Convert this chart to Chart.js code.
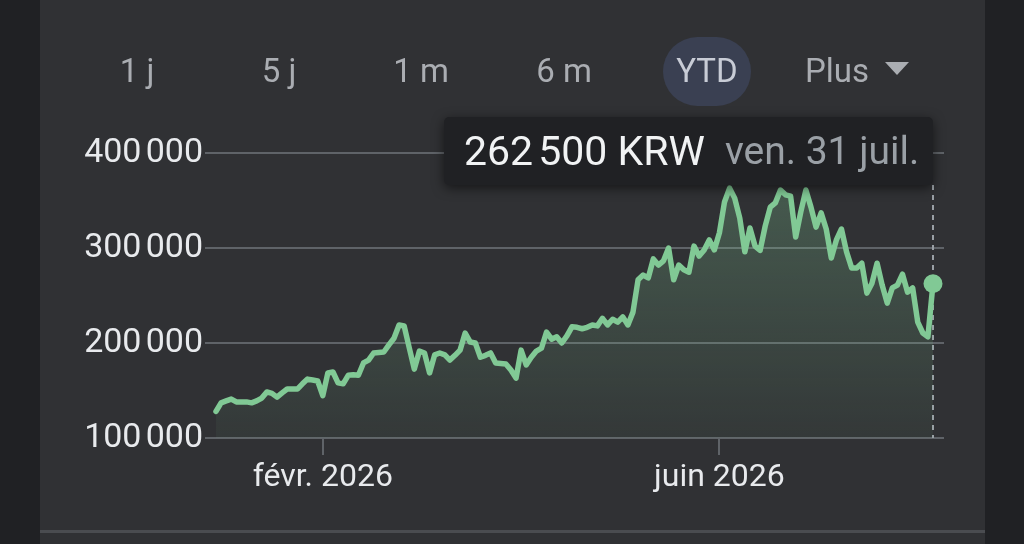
<!DOCTYPE html>
<html lang="fr">
<head>
<meta charset="utf-8">
<script src="https://cdn.jsdelivr.net/npm/chart.js@4.4.1/dist/chart.umd.min.js"></script>
<style>
html, body { margin: 0; padding: 0; background: #202124; }
#page { position: relative; width: 1024px; height: 544px; overflow: hidden; background: #202124; font-family: Roboto, "Noto Sans", sans-serif; }
#panel { position: absolute; left: 40px; top: 0; width: 945px; height: 544px; background: #303134; }
#chart { position: absolute; left: 0; top: 0; }
.range { position: absolute; top: 48px; width: 100px; height: 46px; line-height: 46px; margin-left: -50px; text-align: center; font-size: 33px; color: #aaadb2; white-space: nowrap; }
#pill { position: absolute; left: 663px; top: 37px; width: 88px; height: 69px; border-radius: 35px; background: #3a4052; }
#ytd { color: #c8ccd6; }
#plus { position: absolute; left: 805px; top: 48px; height: 46px; line-height: 46px; font-size: 33px; color: #aaadb2; }
#caret { position: absolute; left: 885px; top: 62px; width: 0; height: 0; border-left: 12px solid transparent; border-right: 12px solid transparent; border-top: 13px solid #aaadb2; }
#tip { position: absolute; left: 444px; top: 117px; width: 489px; height: 68px; background: #202124; border-radius: 5px; box-shadow: 0 3px 12px rgba(0,0,0,0.55); display: flex; align-items: center; white-space: nowrap; }
#tip-price { margin-left: 20px; font-size: 41px; color: #f1f3f4; }
#tip-date { margin-left: 20px; font-size: 39px; color: #9aa0a6; }
#sep { position: absolute; left: 40px; top: 530px; width: 945px; height: 3px; background: #4a4c50; }
</style>
</head>
<body>
<div id="page">
  <div id="panel"></div>
  <canvas id="chart" width="1024" height="544"></canvas>
  <div id="pill"></div>
  <div class="range" style="left:137px">1 j</div>
  <div class="range" style="left:279px">5 j</div>
  <div class="range" style="left:421px">1 m</div>
  <div class="range" style="left:564px">6 m</div>
  <div class="range" id="ytd" style="left:707px">YTD</div>
  <div id="plus">Plus</div>
  <div id="caret"></div>
  <div id="tip"><span id="tip-price"></span><span id="tip-date"></span></div>
  <div id="sep"></div>
</div>
<script>
// cours de clôture (KRW), un point par séance depuis le 2 janv.
const prices = [
  128000, 137000, 139000, 141000, 138000, 138000, 138000, 137000, 139000, 142000,
  148500, 147000, 143000, 147500, 151500, 151500, 151500, 157000, 162000, 161000,
  160000, 144500, 168500, 169500, 158000, 157000, 166000, 166500, 166000, 179000,
  182000, 189500, 190000, 190500, 198000, 205000, 219000, 218000, 195000, 172500,
  191500, 189500, 168500, 187500, 189500, 187500, 182000, 187000, 192500, 210500,
  201000, 200000, 185000, 187000, 189500, 179000, 178500, 178000, 171500, 163000,
  192500, 177000, 185000, 191500, 194500, 211500, 204000, 206500, 200000, 207500,
  217000, 216500, 215000, 216500, 219000, 218000, 226000, 219000, 225000, 222000,
  227500, 219000, 232500, 266500, 271500, 268500, 288500, 282000, 286500, 300000,
  266500, 282000, 277000, 274500, 302000, 291500, 298000, 308500, 298000, 316000,
  348500, 363000, 352500, 331500, 296000, 321000, 302000, 297500, 323000, 343000,
  347500, 361000, 356000, 354500, 311500, 338000, 361000, 343000, 322000, 337000,
  320000, 289500, 308500, 320000, 296000, 279000, 279000, 284000, 252500, 263000,
  284000, 261000, 242000, 258000, 261000, 272500, 253500, 258000, 222000, 210500,
  206500, 262500
];
const xTickIndex = [21, 99];
const xTickText = ['févr. 2026', 'juin 2026'];
const yTickValues = [100000, 200000, 300000, 400000];
const yTickText = ['100\u202F000', '200\u202F000', '300\u202F000', '400\u202F000'];
const lastPriceText = '262\u202F500 KRW';
const lastDateText = 'ven. 31 juil.';

document.getElementById('tip-price').textContent = lastPriceText;
document.getElementById('tip-date').textContent = lastDateText;

const lastIdx = prices.length - 1;

// trait pointillé vertical sous l'info-bulle
const cursorLine = {
    id: 'cursorLine',
    beforeDatasetsDraw(chart) {
        const meta = chart.getDatasetMeta(0);
        const pt = meta.data[lastIdx];
        const ctx = chart.ctx;
        ctx.save();
        ctx.strokeStyle = '#9aa0a6';
        ctx.lineWidth = 2;
        ctx.setLineDash([5, 5]);
        ctx.beginPath();
        ctx.moveTo(pt.x, 185);
        ctx.lineTo(pt.x, chart.chartArea.bottom);
        ctx.stroke();
        ctx.restore();
    }
};

const ctx = document.getElementById('chart').getContext('2d');
new Chart(ctx, {
    type: 'line',
    data: {
        labels: prices.map((p, i) => i),
        datasets: [{
            data: prices,
            borderColor: '#81c995',
            borderWidth: 5.5,
            borderJoinStyle: 'round',
            borderCapStyle: 'round',
            tension: 0,
            fill: 'start',
            backgroundColor: function(c) {
                const area = c.chart.chartArea;
                if (!area) { return 'rgba(129,201,149,0.12)'; }
                const g = c.chart.ctx.createLinearGradient(0, area.top, 0, area.bottom);
                g.addColorStop(0, 'rgba(129,201,149,0.3)');
                g.addColorStop(1, 'rgba(129,201,149,0.05)');
                return g;
            },
            pointRadius: c => c.dataIndex === lastIdx ? 9.5 : 0,
            pointHoverRadius: 0,
            pointBackgroundColor: '#81c995',
            pointBorderWidth: 0
        }]
    },
    options: {
        responsive: false,
        animation: false,
        events: [],
        layout: { padding: { top: 153, right: 80, left: 0, bottom: 0 } },
        plugins: { legend: { display: false }, tooltip: { enabled: false } },
        scales: {
            x: {
                type: 'linear',
                min: -2.163,
                max: lastIdx + 2.163,
                afterBuildTicks: a => { a.ticks = xTickIndex.map(v => ({ value: v })); },
                afterFit: s => { s.height = 106; },
                ticks: {
                    autoSkip: false,
                    maxRotation: 0,
                    padding: 4,
                    color: '#e8eaed',
                    font: { family: 'Roboto', size: 32 },
                    callback: v => xTickText[xTickIndex.indexOf(v)]
                },
                grid: { drawOnChartArea: false, drawTicks: true, tickLength: 17, color: '#5f6368', lineWidth: 2 },
                border: { display: false }
            },
            y: {
                min: 100000,
                max: 400000,
                afterBuildTicks: a => { a.ticks = yTickValues.map(v => ({ value: v })); },
                afterFit: s => { s.width = 205; },
                ticks: {
                    padding: 2,
                    color: '#e8eaed',
                    font: { family: 'Roboto', size: 34 },
                    callback: v => yTickText[yTickValues.indexOf(v)]
                },
                grid: { drawTicks: false, color: '#5f6368', lineWidth: 2 },
                border: { display: false }
            }
        }
    },
    plugins: [cursorLine]
});
</script>
</body>
</html>
